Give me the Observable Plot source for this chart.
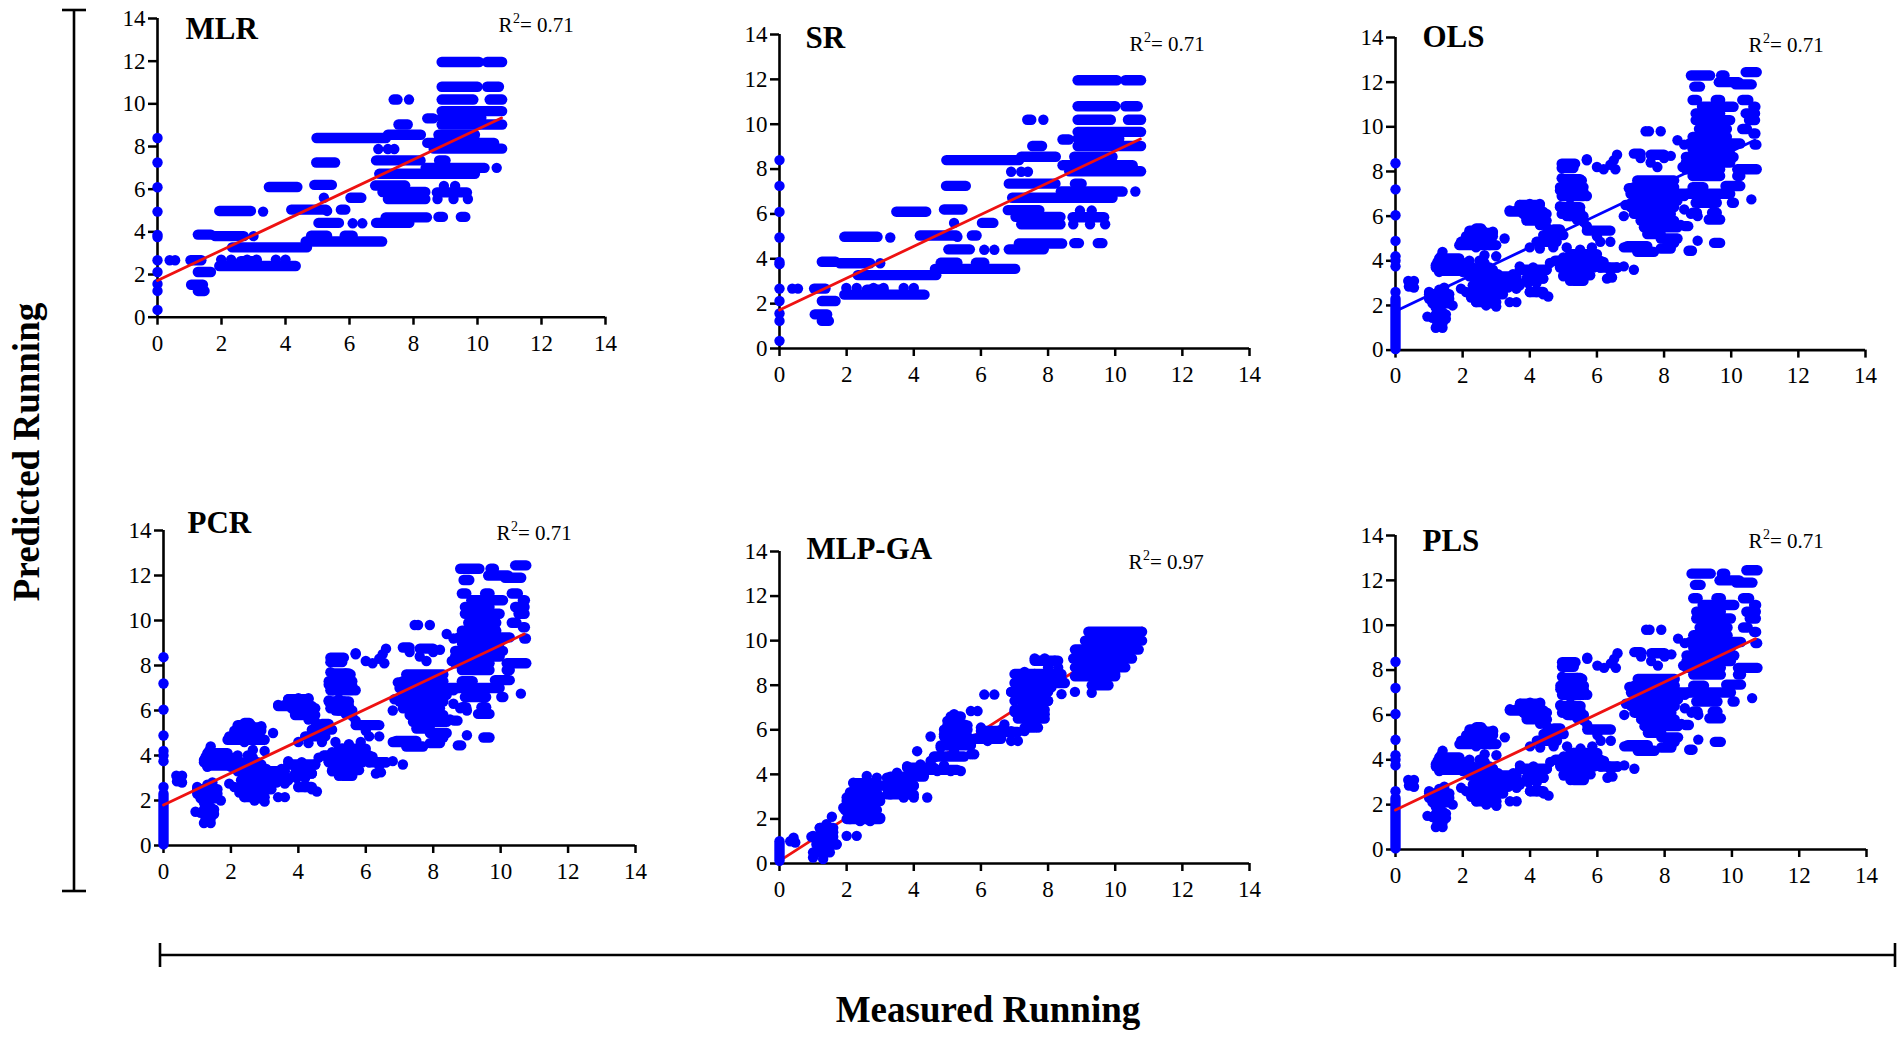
<!DOCTYPE html>
<html>
<head>
<meta charset="utf-8">
<script src="https://cdn.jsdelivr.net/npm/d3@7"></script>
<script src="https://cdn.jsdelivr.net/npm/@observablehq/plot@0.6"></script>
<style>
  html, body { margin: 0; padding: 0; background: #fff; }
  #root { position: relative; width: 1902px; height: 1037px; overflow: hidden; background: #fff; }
  #root svg { position: absolute; }
</style>
</head>
<body>
<div id="root"></div>
<script>
// ---------------- DATA ----------------
const panelNames = ["MLR", "SR", "OLS", "PCR", "MLP-GA", "PLS"];
const r2Values = ["0.71", "0.71", "0.71", "0.71", "0.97", "0.71"];
const axisTicks = [0, 2, 4, 6, 8, 10, 12, 14];

// MLR (the SR panel shows the same cloud)
const mlrPoints = [
  [0,8.4],[0,7.25],[0,6.09],[0,4.95],[0,3.86],[0,3.76],[0,2.67],[0,2.12],[0,1.56],[0,1.23],[0,0.34],
  [0.38,2.67],[0.55,2.67],[3.0,3.8],[3.3,4.95],
  [1.99,2.7],[2.3,2.7],[2.8,2.7],[3.1,2.7],[3.7,2.7],[4.0,2.7],
  [5.2,5.6],[5.3,4.98],[6.1,4.4],[6.4,4.4],
  [6.9,7.88],[7.2,7.88],[7.4,7.88],[7.86,10.2],[10.6,7.0],
  [8.75,5.54],[9.25,5.54],[9.7,5.54],[8.95,6.15],[9.3,6.15]
];
const mlrRuns = [ // [x from, x to, y]
  [1.03,1.37,2.67],[1.26,1.67,2.12],[1.05,1.42,1.52],[1.26,1.47,1.23],
  [1.26,1.67,3.87],[1.8,2.7,3.8],[1.93,2.92,4.98],[1.93,4.32,2.4],[2.6,3.1,2.62],
  [2.33,4.67,3.27],[4.63,7.02,3.55],[4.8,5.3,3.82],[5.85,6.1,3.82],
  [3.48,4.37,6.1],[4.18,5.27,5.04],[5.73,5.87,5.04],[4.9,5.45,6.2],[4.96,5.55,7.25],
  [4.97,7.14,8.4],[7.2,8.23,8.55],[5.03,5.67,4.42],[6.83,7.87,4.42],[7.13,8.42,4.68],
  [8.78,8.92,4.7],[9.48,9.62,4.7],[6.03,6.37,5.6],[6.83,8.22,7.35],[7.53,7.82,9.03],
  [7.38,7.5,10.2],[6.93,9.92,6.72],[8.38,10.22,7.0],[6.8,7.74,6.17],[7.03,8.37,5.87],
  [8.73,9.67,5.85],[7.2,8.37,5.54],[8.43,10.52,8.17],[8.63,10.77,7.9],[8.78,9.92,8.55],
  [8.78,9.92,8.3],[8.43,8.62,9.32],[8.88,10.77,9.03],[8.88,10.12,9.35],[8.88,10.77,9.66],
  [8.88,9.87,10.2],[10.38,10.77,10.2],[8.88,10.0,10.8],[10.3,10.67,10.8],
  [8.88,10.05,11.96],[10.3,10.77,11.96],[8.8,9.0,7.35]
];
const mlrFit = [[0, 1.72], [10.75, 9.34]];
const srPoints = mlrPoints;
const srRuns = mlrRuns;
const srFit = [[0, 1.72], [10.75, 9.34]];

// OLS (the PCR and PLS panels show the same cloud)
const olsPoints = [
  [0,8.37],[0,7.2],[0,6.04],[0,4.89],[0,4.2],[0,4.0],[0,3.75],[0,2.6],
  [0.38,3.1],[0.55,3.1],[0.4,2.85],[0.55,2.8],
  [1.0,2.6],[1.1,2.45],[1.0,2.3],[1.2,2.2],[0.95,1.5],[1.1,1.45],[1.25,1.65],[1.2,1.9],[1.3,1.3],
  [1.2,1.0],[1.4,1.0],[1.35,2.4],[1.45,2.2],[1.4,1.7],[1.5,1.4],[1.55,2.5],[1.6,2.3],[1.7,2.0],
  [1.45,2.8],[1.3,2.7],[1.25,1.45],
  [1.2,3.7],[1.25,3.95],[1.35,4.2],[1.4,4.4],[1.3,3.5],[1.5,3.8],[1.6,4.0],[1.7,3.85],[1.8,4.0],
  [1.9,3.6],[2.1,3.9],[2.2,4.0],[2.0,3.5],[2.3,3.7],[1.95,2.75],[2.1,2.6],
  [3.25,5.0],[2.9,5.3],[2.4,4.6],[2.8,4.7],
  [2.2,3.5],[2.4,3.3],[2.6,3.0],[2.45,2.8],[2.3,2.6],[2.25,2.35],[2.4,2.15],[2.6,2.3],[2.7,2.0],
  [2.85,2.1],[3.0,1.95],[2.9,2.4],[2.7,2.6],[2.8,2.9],[2.9,3.2],[3.05,3.4],[3.1,3.0],[3.2,2.7],
  [3.35,2.8],[3.5,2.95],[3.5,3.4],[3.6,2.75],[3.7,3.0],[3.4,2.15],[3.6,2.15],[2.5,3.6],[2.65,3.9],
  [2.8,3.7],[3.0,4.2],[2.5,4.0],[2.65,4.25],[3.3,3.2],
  [3.4,6.25],[3.6,6.25],[3.7,6.5],[3.8,6.1],[3.9,6.35],[4.0,6.55],[4.1,6.2],[4.3,6.55],[4.2,6.0],
  [3.9,5.9],[4.4,5.8],[4.5,6.1],[4.5,5.5],[4.3,5.6],
  [3.7,3.75],[3.9,3.5],[4.1,3.7],[4.0,3.3],[4.3,3.4],[4.5,3.6],[4.2,3.0],[4.4,3.2],[3.95,3.0],
  [4.0,2.6],[4.2,2.6],[4.4,2.5],[4.55,2.4],[4.6,3.9],
  [4.0,4.6],[4.3,4.55],[4.7,4.6],
  [4.95,7.7],[5.1,7.4],[4.9,7.15],[5.0,6.9],[5.3,7.3],[5.4,7.65],[5.55,7.6],[5.6,7.1],[5.5,6.95],
  [5.7,6.9],[4.9,6.45],[5.05,6.3],[5.2,6.5],[5.35,6.4],[5.5,6.2],[5.2,6.0],[5.4,5.85],[5.6,5.75],
  [4.95,6.1],[5.7,8.55],
  [4.75,4.0],[4.9,3.75],[5.0,4.15],[5.1,3.5],[5.2,3.9],[5.3,4.3],[5.4,4.0],[5.3,3.4],[5.45,3.2],
  [5.6,3.6],[5.65,3.95],[5.8,4.2],[5.75,3.4],[5.9,3.85],[6.0,4.1],[6.1,3.7],[5.0,3.3],[5.2,3.1],
  [5.5,4.5],[5.1,4.6],[6.2,3.95],[6.35,3.7],[6.4,3.55],[6.3,3.2],[6.45,3.25],[6.6,3.7],[6.8,3.75],
  [7.1,3.6],[5.85,4.6],
  [6.1,4.85],[6.4,4.85],[6.0,5.1],[5.7,5.55],
  [5.7,8.5],[6.0,8.2],[6.2,8.1],[6.4,8.3],[6.5,8.5],[6.6,8.75],[6.55,8.1],
  [7.3,8.6],[7.6,8.4],[7.8,8.2],[8.0,8.6],[8.2,8.7],
  [7.45,9.8],[7.55,9.8],[7.9,9.8],
  [6.8,6.0],[6.85,6.5],[8.6,6.9],[8.7,7.0],[8.6,6.3],[8.5,5.6],
  [9.0,4.9],[8.8,6.1],[9.0,6.0],[8.7,8.3],[8.4,9.4],[8.6,9.2],[8.55,8.2],[10.6,6.75]
];
const olsRuns = [
  [1.0,1.6,2.5],[1.1,1.6,2.1],[1.2,1.5,1.6],[1.25,1.4,1.2],
  [1.2,2.2,3.8],[1.3,1.9,4.1],[1.3,2.3,3.55],
  [1.95,2.8,4.85],[2.1,2.9,5.1],[2.2,2.6,5.35],[2.4,2.55,5.45],[1.9,3.0,4.7],[2.2,2.9,5.25],
  [2.2,3.6,3.3],[2.3,3.7,2.9],[2.3,3.2,2.5],[2.4,3.0,2.15],[2.3,2.9,3.6],
  [3.4,4.4,6.2],[3.7,4.3,6.5],[3.9,4.5,5.8],
  [3.7,4.5,3.6],[3.9,4.4,3.2],[4.0,4.4,2.6],
  [4.2,4.8,4.85],[4.4,5.0,5.15],[4.7,4.9,5.4],
  [4.95,5.35,8.35],[4.95,5.3,8.15],[4.9,5.6,7.3],[4.95,5.6,6.9],[4.9,5.5,6.4],[5.1,5.6,6.0],
  [5.0,5.5,7.65],
  [4.8,6.1,4.0],[4.9,5.9,3.7],[5.0,5.8,3.35],[5.3,5.6,3.1],[5.2,6.0,4.3],[6.1,6.6,3.7],
  [5.7,6.4,5.35],
  [7.1,7.3,8.8],[7.6,8.0,8.75],
  [6.95,7.25,7.25],[7.2,8.3,7.6],[7.1,8.3,7.3],[7.0,8.4,7.0],[7.1,8.4,6.7],[7.0,8.3,6.4],
  [7.1,8.2,6.1],[7.3,8.3,5.8],[7.4,8.4,5.5],[7.5,7.9,5.2],[7.9,8.4,5.0],[6.9,7.5,4.65],
  [7.2,7.7,4.4],[7.9,8.2,4.55],[8.1,8.3,4.8],[6.8,7.1,4.6],
  [8.8,9.37,12.3],[9.7,9.8,12.3],[10.43,10.76,12.45],[9.63,10.22,12.0],
  [8.9,9.07,11.8],[10.13,10.61,11.9],[8.85,8.98,11.2],[9.54,9.67,11.2],[10.33,10.51,11.2],
  [9.13,10.07,10.9],[10.66,10.72,10.9],[8.94,9.67,10.6],[10.43,10.71,10.6],
  [8.94,9.97,10.3],[10.53,10.71,10.3],[9.04,9.87,9.9],[10.33,10.47,9.9],
  [8.85,9.87,9.55],[10.66,10.72,9.7],[8.75,10.27,9.25],[10.7,10.75,9.2],
  [8.85,9.97,9.0],[8.65,10.07,8.65],[8.65,9.97,8.4],[8.65,9.67,8.1],[10.18,10.76,8.1],
  [8.85,9.67,7.8],[10.18,10.27,7.8],[8.85,9.17,7.3],[9.83,10.27,7.35],[8.45,9.97,7.0],
  [8.94,9.57,6.6],[10.02,10.08,6.6],[8.85,8.98,6.15],[9.43,9.57,6.15],[9.33,9.67,5.85],
  [8.62,8.72,5.55],[9.49,9.67,4.8],[8.73,8.83,4.45]
];
const olsColumn = [[0, 0.05, 2.3]]; // [x, y from, y to]
const olsFit = [[0, 1.74], [10.7, 9.4]];
const pcrPoints = olsPoints, pcrRuns = olsRuns, pcrColumn = olsColumn;
const pcrFit = [[0, 1.8], [10.7, 9.4]];
const plsPoints = olsPoints, plsRuns = olsRuns, plsColumn = olsColumn;
const plsFit = [[0, 1.76], [10.7, 9.4]];

// MLP-GA
const mlpPoints = [
  [0.42,1.16],[0.47,0.94],[0.32,1.0],
  [1.0,0.27],[1.3,0.2],[1.0,1.24],[1.2,1.6],[1.4,1.76],[1.6,1.4],[1.7,0.87],[1.3,0.72],[1.1,1.0],
  [1.56,2.1],[2.0,1.24],[2.3,1.24],[1.46,1.16],[1.26,0.5],[1.35,1.3],[1.5,0.95],[1.2,1.2],[1.1,0.5],
  [2.2,3.63],[2.6,3.93],[2.9,3.85],[2.0,2.96],[2.3,2.8],[2.7,2.96],[1.9,2.5],[2.2,2.36],[2.5,2.5],
  [2.8,2.36],[3.0,2.06],[2.1,1.99],[2.4,1.9],[2.7,1.9],[2.4,3.33],[3.0,2.96],[2.05,2.7],[2.4,2.6],
  [2.6,2.2],[2.85,2.7],[2.5,3.1],[2.75,3.4],[3.0,3.5],[2.3,3.1],
  [3.2,3.85],[3.5,4.07],[3.8,4.37],[3.3,3.1],[3.6,3.4],[4.0,3.48],[4.0,2.96],[4.4,2.96],[3.7,2.96],
  [4.2,4.45],[4.5,4.6],[4.3,4.0],[4.7,4.15],[5.1,4.15],[5.4,4.15],[4.1,5.04],[3.4,3.6],[3.9,3.9],
  [4.5,4.3],[4.9,4.4],[3.2,3.4],[3.5,3.3],
  [4.6,4.75],[4.8,5.2],[4.9,5.8],[5.0,6.4],[5.2,6.7],[5.3,5.94],[5.5,5.64],[5.7,5.34],[5.8,4.9],
  [5.2,5.04],[5.1,5.5],[5.5,6.24],[5.7,6.84],[5.9,6.84],[4.5,5.7],[5.7,4.9],[4.9,6.0],[5.3,5.4],
  [5.0,5.3],[5.4,6.0],[5.6,6.0],[5.1,6.1],
  [6.0,6.1],[6.2,5.5],[6.5,5.64],[6.7,6.24],[6.9,5.94],[7.1,5.5],[6.9,5.5],[6.1,7.58],[6.4,7.58],
  [6.3,5.9],[6.6,6.0],[6.0,5.7],
  [6.9,7.7],[7.1,8.2],[7.3,8.6],[7.6,9.2],[7.9,9.2],[8.2,9.1],[7.5,8.0],[7.8,8.3],[8.1,8.45],
  [8.4,8.3],[7.7,7.6],[8.1,7.9],[8.4,7.6],[7.3,7.1],[7.6,7.0],[7.9,6.7],[7.2,6.54],[7.5,6.24],
  [7.8,6.54],[7.3,5.94],[7.0,7.3],[7.4,7.5],[7.8,7.9],[8.0,7.3],[7.2,7.8],[7.6,8.5],[8.0,8.8],
  [8.3,8.8],[7.0,6.8],[7.4,6.9],[7.7,6.1],
  [8.8,7.7],[9.3,7.66],[10.0,8.5],[9.67,8.2]
];
const mlpRuns = [
  [0.95,1.6,1.2],[1.0,1.5,0.5],[1.1,1.7,0.85],[1.2,1.6,1.6],
  [2.0,3.0,2.0],[1.95,2.9,2.4],[2.0,3.0,2.8],[2.1,2.9,3.2],[2.2,2.9,3.6],
  [3.2,4.0,3.1],[3.1,4.0,3.5],[3.3,4.3,3.9],[3.8,4.6,4.3],[4.3,5.3,4.2],
  [4.6,5.5,4.8],[4.8,5.7,5.3],[4.9,5.6,5.7],[5.0,5.6,6.2],[5.1,5.4,6.6],
  [5.8,6.6,5.6],[6.0,6.6,5.95],[6.5,7.1,5.9],
  [9.2,10.8,10.4],[9.1,10.8,10.0],[8.8,10.7,9.6],[8.75,10.5,9.2],[8.8,10.3,8.8],[8.8,10.0,8.4],
  [9.3,9.8,8.0],[7.6,8.3,9.1],[7.0,8.4,8.5],[7.0,8.5,8.1],[6.9,8.0,7.7],[7.2,8.0,7.3],
  [7.0,7.9,6.9],[7.1,7.9,6.5],[7.3,7.6,6.1]
];
const mlpColumn = [[0, 0.12, 1.0]];
const mlpFit = [[0, 0.12], [10.8, 10.57]];

// ---------------- LAYOUT ----------------
const BLUE = "#0000ff";
const RED = "#ee1111";
const FONT = "'Liberation Serif', 'Times New Roman', serif";
const panels = [
  {points: mlrPoints, runs: mlrRuns, column: [], fit: mlrFit, line: RED, lineOnTop: true,
   frame: {left: 156.5, right: 604.5, top: 18, bottom: 316.7}, title: [28, 21], r2: [341, 14]},
  {points: srPoints, runs: srRuns, column: [], fit: srFit, line: RED, lineOnTop: true,
   frame: {left: 779.3, right: 1249.3, top: 34.3, bottom: 348.3}, title: [26, 13], r2: [350, 16]},
  {points: olsPoints, runs: olsRuns, column: olsColumn, fit: olsFit, line: BLUE, lineOnTop: true,
   frame: {left: 1395, right: 1865, top: 36.7, bottom: 349.3}, title: [27, 10], r2: [353, 15]},
  {points: pcrPoints, runs: pcrRuns, column: pcrColumn, fit: pcrFit, line: RED, lineOnTop: true,
   frame: {left: 162.7, right: 634.7, top: 530, bottom: 845}, title: [24, 2], r2: [333, 9]},
  {points: mlpPoints, runs: mlpRuns, column: mlpColumn, fit: mlpFit, line: RED, lineOnTop: false,
   frame: {left: 779, right: 1249, top: 551, bottom: 863}, title: [27, 7], r2: [349, 17]},
  {points: plsPoints, runs: plsRuns, column: plsColumn, fit: plsFit, line: RED, lineOnTop: true,
   frame: {left: 1395, right: 1866, top: 535, bottom: 849}, title: [27, 15], r2: [353, 12]}
];

const root = document.getElementById("root");
const M = {l: 60, r: 30, t: 30, b: 50};
const DOT_R = 5.2;

panels.forEach((p, i) => {
  const f = p.frame;
  const w = f.right - f.left, h = f.bottom - f.top;
  const fitMark = Plot.line(p.fit, {x: d => d[0], y: d => d[1], stroke: p.line, strokeWidth: 2.8});
  const cloud = [
    Plot.link(p.runs, {x1: d => d[0], x2: d => d[1], y1: d => d[2], y2: d => d[2],
      stroke: BLUE, strokeWidth: DOT_R * 2, strokeLinecap: "round"}),
    Plot.link(p.column, {x1: d => d[0], x2: d => d[0], y1: d => d[1], y2: d => d[2],
      stroke: BLUE, strokeWidth: DOT_R * 2, strokeLinecap: "round"}),
    Plot.dot(p.points, {x: d => d[0], y: d => d[1], r: DOT_R, fill: BLUE, stroke: "none"})
  ];
  const r2Text = (txt, dx, dy, size) => Plot.text([r2Values[i]], {frameAnchor: "top-left", text: () => txt,
    dx: p.r2[0] + dx, dy: p.r2[1] + dy, textAnchor: "start", lineAnchor: "bottom", fontSize: size, fill: "black"});
  const chart = Plot.plot({
    width: w + M.l + M.r, height: h + M.t + M.b,
    marginLeft: M.l, marginRight: M.r, marginTop: M.t, marginBottom: M.b,
    x: {domain: [0, 14]}, y: {domain: [0, 14]},
    style: {fontFamily: FONT, fontSize: "23px", background: "transparent", overflow: "visible", color: "black"},
    marks: [
      Plot.axisX({ticks: axisTicks, tickSize: 8, tickPadding: 9, fontSize: 23, strokeWidth: 2.5,
        tickFormat: d => String(d), label: null}),
      Plot.axisY({ticks: axisTicks, tickSize: 9, tickPadding: 3, fontSize: 23, strokeWidth: 2.5,
        tickFormat: d => String(d), label: null}),
      Plot.ruleY([0], {stroke: "black", strokeWidth: 2.6}),
      Plot.ruleX([0], {stroke: "black", strokeWidth: 2.6}),
      ...(p.lineOnTop ? [] : [fitMark]),
      ...cloud,
      ...(p.lineOnTop ? [fitMark] : []),
      Plot.text([panelNames[i]], {frameAnchor: "top-left", text: d => d, dx: p.title[0], dy: p.title[1],
        textAnchor: "start", lineAnchor: "bottom", fontSize: 31, fontWeight: "bold", fill: "black"}),
      r2Text("R", 0, 0, 21),
      r2Text("2", 14.5, -9, 14),
      r2Text("= " + r2Values[i], 21.5, 0, 21)
    ]
  });
  chart.style.left = (f.left - M.l) + "px";
  chart.style.top = (f.top - M.t) + "px";
  chart.style.maxWidth = "none";
  root.appendChild(chart);
});

// ---------------- overall brackets and axis titles ----------------
const svg = d3.select(root).append("svg")
  .attr("width", 1902).attr("height", 1037)
  .style("left", "0px").style("top", "0px").style("pointer-events", "none");
const g = svg.append("g").attr("stroke", "black").attr("stroke-width", 2.6);
g.append("line").attr("x1", 74).attr("x2", 74).attr("y1", 10).attr("y2", 891);
g.append("line").attr("x1", 62).attr("x2", 86).attr("y1", 10).attr("y2", 10);
g.append("line").attr("x1", 62).attr("x2", 86).attr("y1", 891).attr("y2", 891);
g.append("line").attr("x1", 160).attr("x2", 1895).attr("y1", 955).attr("y2", 955);
g.append("line").attr("x1", 160).attr("x2", 160).attr("y1", 943).attr("y2", 967);
g.append("line").attr("x1", 1895).attr("x2", 1895).attr("y1", 943).attr("y2", 967);
svg.append("text").text("Predicted Running")
  .attr("transform", "translate(39,452) rotate(-90)")
  .attr("text-anchor", "middle").attr("font-family", FONT)
  .attr("font-size", 37).attr("font-weight", "bold").attr("fill", "black");
svg.append("text").text("Measured Running")
  .attr("x", 988).attr("y", 1022)
  .attr("text-anchor", "middle").attr("font-family", FONT)
  .attr("font-size", 37).attr("font-weight", "bold").attr("fill", "black");
</script>
</body>
</html>
